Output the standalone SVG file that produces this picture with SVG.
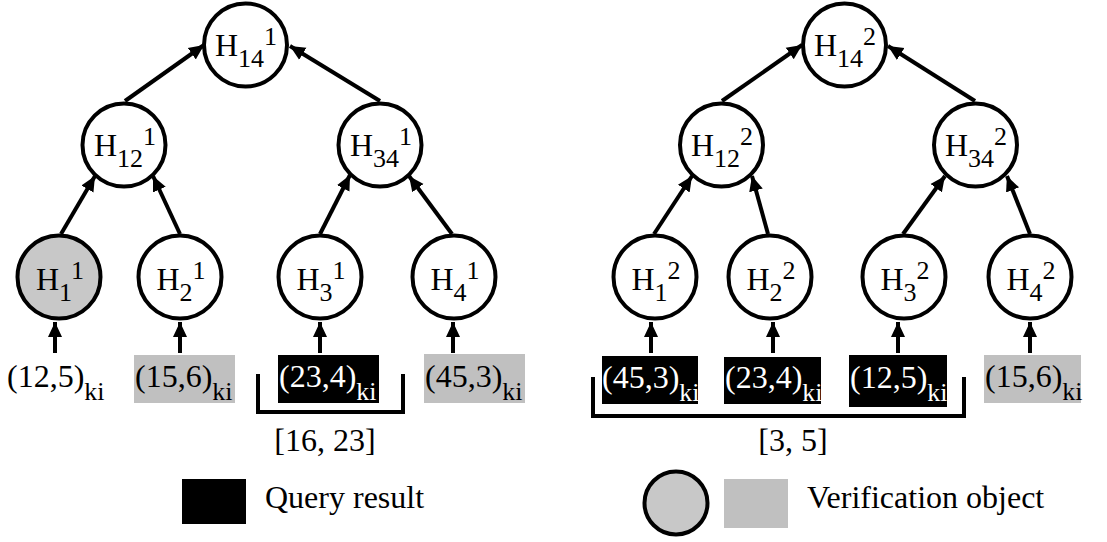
<svg xmlns="http://www.w3.org/2000/svg" width="1107" height="542" viewBox="0 0 1107 542">
  <style>
    .lbl { font-size: 32px; fill: #000; }
    .s { font-size: 26px; }
    .node circle { fill: #fff; stroke: #000; stroke-width: 4; }
    .node.vo circle { fill: #c8c8c8; }
    .edge { stroke: #000; stroke-width: 4; fill: none; marker-end: url(#head); }
    .up { stroke: #000; stroke-width: 4; fill: none; marker-end: url(#head); }
    .bracket { stroke: #000; stroke-width: 4; fill: none; }
    .qr { fill: #000; }
    .vo-box { fill: #c0c0c0; }
    .lbl.white { fill: #fff; }
  </style>
  <defs>
    <marker id="head" markerUnits="userSpaceOnUse" markerWidth="18" markerHeight="16" refX="15" refY="8" orient="auto">
      <path d="M0,1 L15,8 L0,15 Z" fill="#000"/>
    </marker>
  </defs>

  <!-- connectors -->
  <g id="connectors">
    <!-- tree 1 -->
    <line class="edge" x1="125" y1="101" x2="204" y2="45"/>
    <line class="edge" x1="380" y1="101" x2="290" y2="46"/>
    <line class="edge" x1="61" y1="234" x2="95" y2="176"/>
    <line class="edge" x1="180" y1="234" x2="153" y2="176"/>
    <line class="edge" x1="320" y1="234" x2="350" y2="175"/>
    <line class="edge" x1="452" y1="234" x2="409" y2="176"/>
    <line class="up" x1="55" y1="353" x2="55" y2="322"/>
    <line class="up" x1="180" y1="353" x2="180" y2="322"/>
    <line class="up" x1="320" y1="353" x2="320" y2="322"/>
    <line class="up" x1="453" y1="353" x2="453" y2="322"/>
    <!-- tree 2 -->
    <line class="edge" x1="722" y1="101" x2="802" y2="45"/>
    <line class="edge" x1="975" y1="101" x2="888" y2="46"/>
    <line class="edge" x1="654" y1="234" x2="692" y2="176"/>
    <line class="edge" x1="768" y1="234" x2="752" y2="176"/>
    <line class="edge" x1="903" y1="234" x2="945" y2="176"/>
    <line class="edge" x1="1030" y1="234" x2="1007" y2="176"/>
    <line class="up" x1="651" y1="353" x2="651" y2="322"/>
    <line class="up" x1="773" y1="353" x2="773" y2="322"/>
    <line class="up" x1="898" y1="353" x2="898" y2="322"/>
    <line class="up" x1="1030" y1="353" x2="1030" y2="322"/>
  </g>

  <!-- tree 1 nodes -->
  <g id="n-H14-1" class="node">
    <circle cx="245.5" cy="45" r="41.5"/>
    <text class="lbl" font-family="Liberation Serif" x="246" y="56" text-anchor="middle">H<tspan class="s" dy="11">14</tspan><tspan class="s" dy="-22">1</tspan></text>
  </g>
  <g id="n-H12-1" class="node">
    <circle cx="124" cy="145" r="41.5"/>
    <text class="lbl" font-family="Liberation Serif" x="125" y="156" text-anchor="middle">H<tspan class="s" dy="11">12</tspan><tspan class="s" dy="-22">1</tspan></text>
  </g>
  <g id="n-H34-1" class="node">
    <circle cx="380" cy="145" r="41.5"/>
    <text class="lbl" font-family="Liberation Serif" x="381" y="156" text-anchor="middle">H<tspan class="s" dy="11">34</tspan><tspan class="s" dy="-22">1</tspan></text>
  </g>
  <g id="n-H1-1" class="node vo">
    <circle cx="59" cy="277" r="41.5"/>
    <text class="lbl" font-family="Liberation Serif" x="60" y="290" text-anchor="middle">H<tspan class="s" dy="11">1</tspan><tspan class="s" dy="-22">1</tspan></text>
  </g>
  <g id="n-H2-1" class="node">
    <circle cx="180" cy="277" r="41.5"/>
    <text class="lbl" font-family="Liberation Serif" x="181" y="290" text-anchor="middle">H<tspan class="s" dy="11">2</tspan><tspan class="s" dy="-22">1</tspan></text>
  </g>
  <g id="n-H3-1" class="node">
    <circle cx="320" cy="277" r="41.5"/>
    <text class="lbl" font-family="Liberation Serif" x="321" y="290" text-anchor="middle">H<tspan class="s" dy="11">3</tspan><tspan class="s" dy="-22">1</tspan></text>
  </g>
  <g id="n-H4-1" class="node">
    <circle cx="454" cy="277" r="41.5"/>
    <text class="lbl" font-family="Liberation Serif" x="455" y="290" text-anchor="middle">H<tspan class="s" dy="11">4</tspan><tspan class="s" dy="-22">1</tspan></text>
  </g>

  <!-- tree 1 records -->
  <g id="r-12-5-1">
    <text class="lbl" font-family="Liberation Serif" x="7" y="387">(12,5)<tspan class="s" dy="13">ki</tspan></text>
  </g>
  <g id="r-15-6-1">
    <rect class="vo-box" x="134" y="355" width="101" height="48"/>
    <text class="lbl" font-family="Liberation Serif" x="135" y="387">(15,6)<tspan class="s" dy="13">ki</tspan></text>
  </g>
  <g id="r-23-4-1">
    <rect class="qr" x="278" y="355" width="101" height="48"/>
    <text class="lbl white" font-family="Liberation Serif" x="279" y="387">(23,4)<tspan class="s" dy="13">ki</tspan></text>
  </g>
  <g id="r-45-3-1">
    <rect class="vo-box" x="424" y="354" width="101" height="49"/>
    <text class="lbl" font-family="Liberation Serif" x="425" y="387">(45,3)<tspan class="s" dy="13">ki</tspan></text>
  </g>
  <g id="range-1">
    <path class="bracket" d="M258,374 V412 H403 V374"/>
    <text class="lbl" font-family="Liberation Serif" x="325" y="451" text-anchor="middle">[16, 23]</text>
  </g>

  <!-- tree 2 nodes -->
  <g id="n-H14-2" class="node">
    <circle cx="844.5" cy="45" r="41.5"/>
    <text class="lbl" font-family="Liberation Serif" x="845" y="56" text-anchor="middle">H<tspan class="s" dy="11">14</tspan><tspan class="s" dy="-22">2</tspan></text>
  </g>
  <g id="n-H12-2" class="node">
    <circle cx="721.5" cy="145" r="41.5"/>
    <text class="lbl" font-family="Liberation Serif" x="722" y="156" text-anchor="middle">H<tspan class="s" dy="11">12</tspan><tspan class="s" dy="-22">2</tspan></text>
  </g>
  <g id="n-H34-2" class="node">
    <circle cx="975.5" cy="145" r="41.5"/>
    <text class="lbl" font-family="Liberation Serif" x="976" y="156" text-anchor="middle">H<tspan class="s" dy="11">34</tspan><tspan class="s" dy="-22">2</tspan></text>
  </g>
  <g id="n-H1-2" class="node">
    <circle cx="655" cy="277" r="41.5"/>
    <text class="lbl" font-family="Liberation Serif" x="656" y="290" text-anchor="middle">H<tspan class="s" dy="11">1</tspan><tspan class="s" dy="-22">2</tspan></text>
  </g>
  <g id="n-H2-2" class="node">
    <circle cx="770" cy="277" r="41.5"/>
    <text class="lbl" font-family="Liberation Serif" x="771" y="290" text-anchor="middle">H<tspan class="s" dy="11">2</tspan><tspan class="s" dy="-22">2</tspan></text>
  </g>
  <g id="n-H3-2" class="node">
    <circle cx="904" cy="277" r="41.5"/>
    <text class="lbl" font-family="Liberation Serif" x="905" y="290" text-anchor="middle">H<tspan class="s" dy="11">3</tspan><tspan class="s" dy="-22">2</tspan></text>
  </g>
  <g id="n-H4-2" class="node">
    <circle cx="1030" cy="277" r="41.5"/>
    <text class="lbl" font-family="Liberation Serif" x="1031" y="290" text-anchor="middle">H<tspan class="s" dy="11">4</tspan><tspan class="s" dy="-22">2</tspan></text>
  </g>

  <!-- tree 2 records -->
  <g id="r-45-3-2">
    <rect class="qr" x="602" y="356" width="96" height="48"/>
    <text class="lbl white" font-family="Liberation Serif" x="602" y="388">(45,3)<tspan class="s" dy="13">ki</tspan></text>
  </g>
  <g id="r-23-4-2">
    <rect class="qr" x="724" y="357" width="97" height="47"/>
    <text class="lbl white" font-family="Liberation Serif" x="725" y="388">(23,4)<tspan class="s" dy="13">ki</tspan></text>
  </g>
  <g id="r-12-5-2">
    <rect class="qr" x="849" y="355" width="98" height="52"/>
    <text class="lbl white" font-family="Liberation Serif" x="850" y="388">(12,5)<tspan class="s" dy="13">ki</tspan></text>
  </g>
  <g id="r-15-6-2">
    <rect class="vo-box" x="984" y="355" width="97" height="48"/>
    <text class="lbl" font-family="Liberation Serif" x="985" y="387">(15,6)<tspan class="s" dy="13">ki</tspan></text>
  </g>
  <g id="range-2">
    <path class="bracket" d="M593,377 V416 H964 V377"/>
    <text class="lbl" font-family="Liberation Serif" x="793" y="451" text-anchor="middle">[3, 5]</text>
  </g>

  <!-- legend -->
  <g id="legend-query">
    <rect class="qr" x="182" y="479" width="64" height="45"/>
    <text class="lbl" font-family="Liberation Serif" x="265" y="508">Query result</text>
  </g>
  <g id="legend-vo">
    <circle cx="676" cy="503" r="31.5" fill="#c8c8c8" stroke="#000" stroke-width="4"/>
    <rect class="vo-box" x="724" y="479" width="64" height="49"/>
    <text class="lbl" font-family="Liberation Serif" x="807" y="508">Verification object</text>
  </g>
</svg>
